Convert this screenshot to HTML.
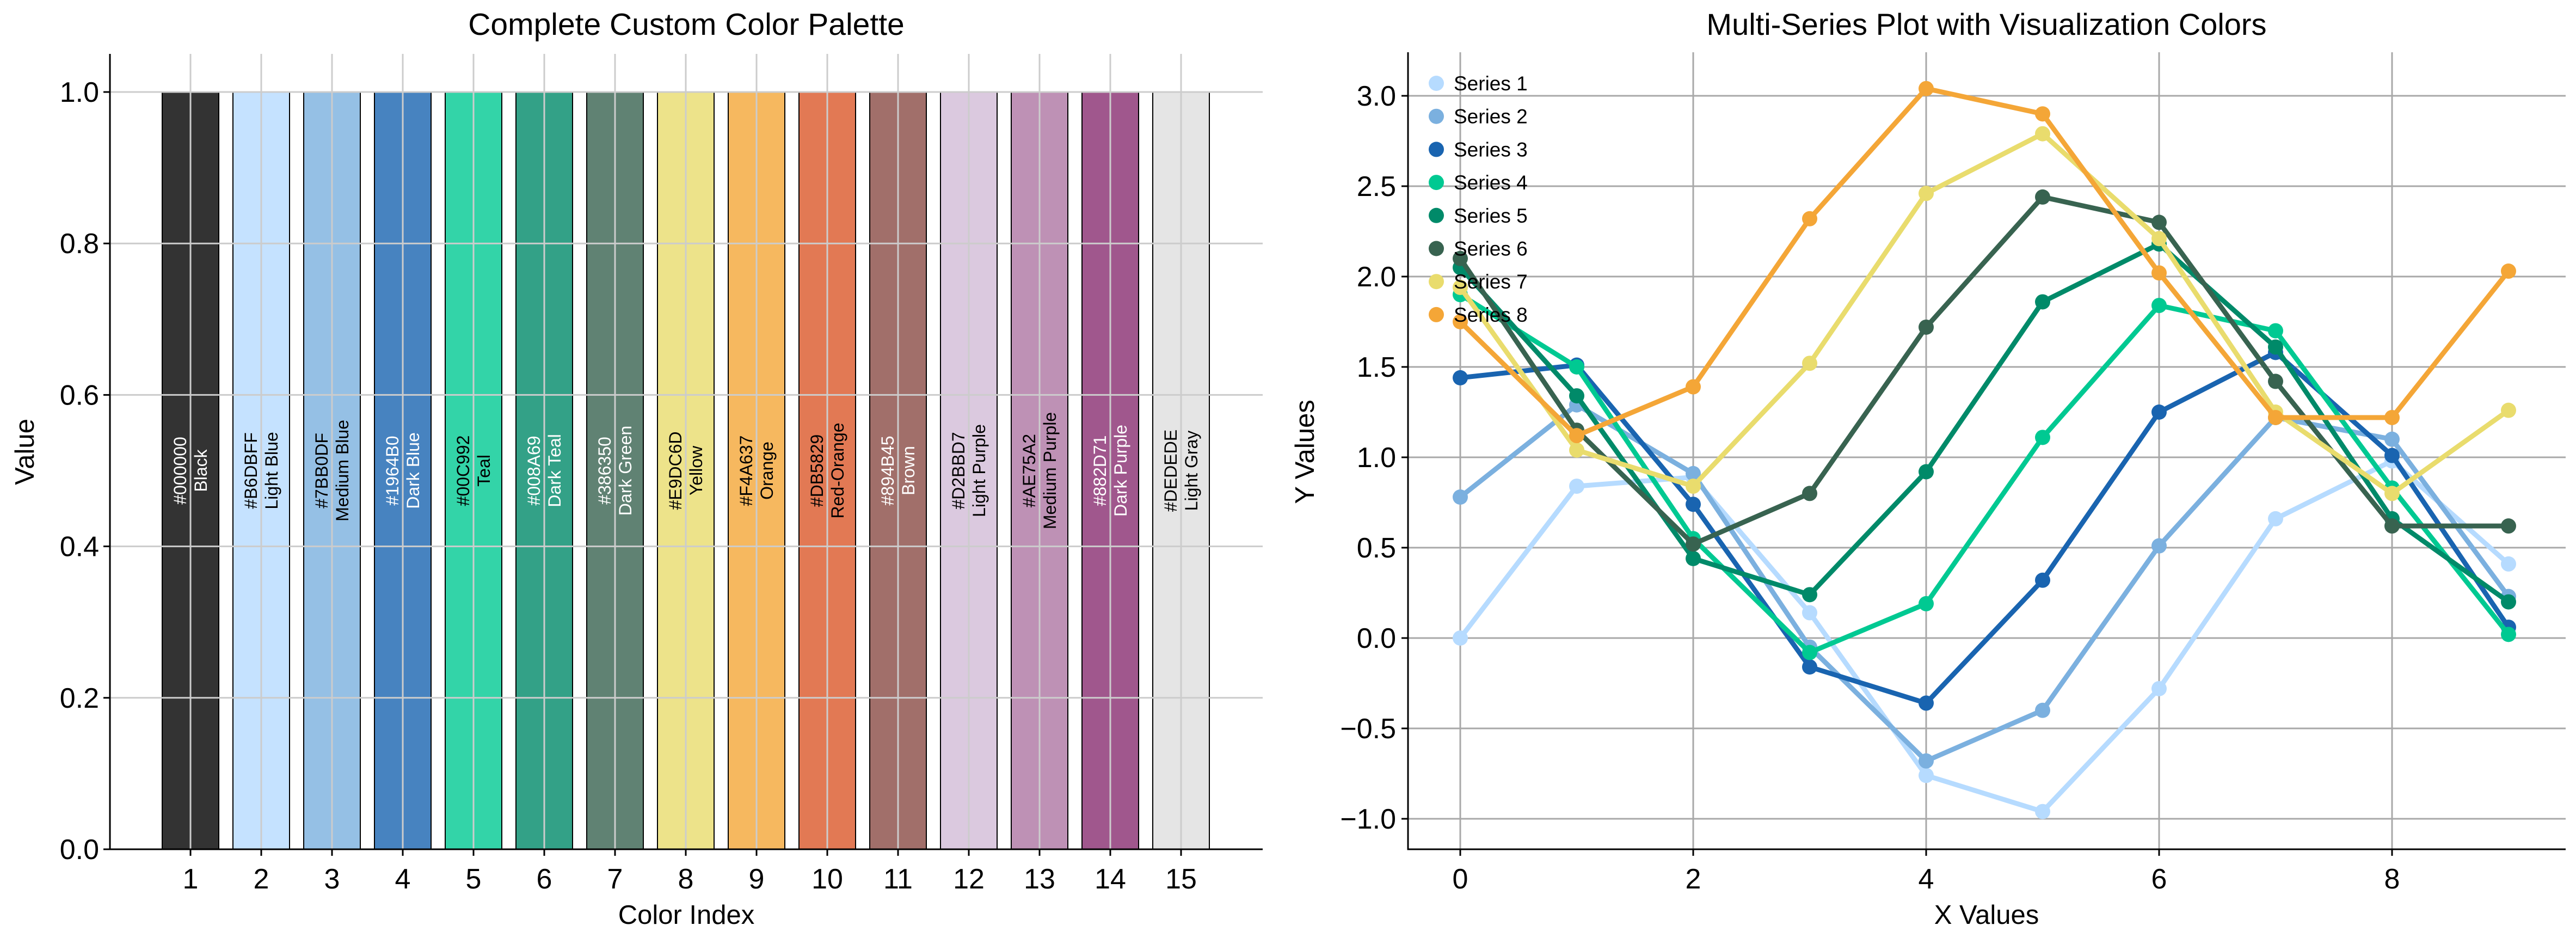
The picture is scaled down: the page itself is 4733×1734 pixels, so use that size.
<!DOCTYPE html>
<html><head><meta charset="utf-8"><style>
html,body{margin:0;padding:0;background:#fff}
svg{display:block;font-family:"Liberation Sans",Arial,sans-serif}
</style></head><body>
<svg id="fig" width="4733" height="1734" viewBox="0 0 4733 1734" xmlns="http://www.w3.org/2000/svg">
<rect width="4733" height="1734" fill="#fff"/>
<g id="left"></g>
<g id="right"></g>
</svg>
<script>
const paletteHex=["#000000","#B6DBFF","#7BB0DF","#1964B0","#00C992","#008A69","#386350","#E9DC6D","#F4A637","#DB5829","#894B45","#D2BBD7","#AE75A2","#882D71","#DEDEDE"];
const paletteNames=["Black","Light Blue","Medium Blue","Dark Blue","Teal","Dark Teal","Dark Green","Yellow","Orange","Red-Orange","Brown","Light Purple","Medium Purple","Dark Purple","Light Gray"];
const paletteValues=[1,1,1,1,1,1,1,1,1,1,1,1,1,1,1];
const labelWhite=[1,0,0,1,0,1,1,0,0,0,1,0,0,1,0];
const leftYTicks=[0,0.2,0.4,0.6,0.8,1.0];
const leftYTickLabels=["0.0","0.2","0.4","0.6","0.8","1.0"];

const xValues=[0,1,2,3,4,5,6,7,8,9];
const s1=[0.0,0.84,0.89,0.14,-0.76,-0.96,-0.28,0.66,0.98,0.41];
const s2=[0.78,1.29,0.91,-0.05,-0.68,-0.40,0.51,1.22,1.10,0.23];
const s3=[1.44,1.51,0.74,-0.16,-0.36,0.32,1.25,1.58,1.01,0.06];
const s4=[1.90,1.50,0.55,-0.08,0.19,1.11,1.84,1.70,0.83,0.02];
const s5=[2.05,1.34,0.44,0.24,0.92,1.86,2.18,1.61,0.66,0.20];
const s6=[2.10,1.15,0.52,0.80,1.72,2.44,2.30,1.42,0.62,0.62];
const s7=[1.94,1.04,0.84,1.52,2.46,2.79,2.21,1.25,0.80,1.26];
const s8=[1.75,1.12,1.39,2.32,3.04,2.90,2.02,1.22,1.22,2.03];
const seriesNames=["Series 1","Series 2","Series 3","Series 4","Series 5","Series 6","Series 7","Series 8"];
const seriesColors=["#B6DBFF","#7BB0DF","#1964B0","#00C992","#008A69","#386350","#E9DC6D","#F4A637"];
const rightXTicks=[0,2,4,6,8];
const rightYTicks=[-1.0,-0.5,0.0,0.5,1.0,1.5,2.0,2.5,3.0];
const rightYTickLabels=["\u22121.0","\u22120.5","0.0","0.5","1.0","1.5","2.0","2.5","3.0"];

const NS="http://www.w3.org/2000/svg";
function mk(parent,tag,attrs,text){const e=document.createElementNS(NS,tag);for(const k in attrs)e.setAttribute(k,attrs[k]);if(text!==undefined)e.textContent=text;parent.appendChild(e);return e;}

// LEFT
const L=document.getElementById('left');
const lx=i=>350+(i-1)*130.0;
const ly=v=>1560-1391*v;
const LX0=202,LX1=2320,LY0=99,LY1=1560;
paletteValues.forEach((v,i)=>{
  const r=mk(L,'rect',{x:lx(i+1)-52,y:ly(v),width:104,height:ly(0)-ly(v),fill:paletteHex[i],'fill-opacity':0.8,stroke:'#000','stroke-width':2});
  
  
});
for(let i=1;i<=15;i++){const g=mk(L,'line',{x1:lx(i),x2:lx(i),y1:LY0,y2:LY1,stroke:'#cccccc','stroke-width':3});}
leftYTicks.forEach(t=>{const g=mk(L,'line',{x1:LX0,x2:LX1,y1:ly(t),y2:ly(t),stroke:'#cccccc','stroke-width':3});});
paletteValues.forEach((v,i)=>{
  const cx=lx(i+1),cy=ly(v/2);
  const t=mk(L,'text',{transform:`translate(${cx},${cy}) rotate(-90)`,'text-anchor':'middle','font-size':32,fill:labelWhite[i]?'#fff':'#000'});
  
  
  mk(t,'tspan',{x:0,y:-8},paletteHex[i]);
  mk(t,'tspan',{x:0,y:30},paletteNames[i]);
});
mk(L,'line',{x1:LX0,x2:LX0,y1:LY0,y2:LY1+1.5,stroke:'#000','stroke-width':3});
mk(L,'line',{x1:LX0-1.5,x2:LX1,y1:LY1,y2:LY1,stroke:'#000','stroke-width':3});
leftYTicks.forEach((t,i)=>{
  mk(L,'line',{x1:LX0-12,x2:LX0,y1:ly(t),y2:ly(t),stroke:'#000','stroke-width':3});
  const e=mk(L,'text',{x:LX0-20,y:ly(t)+18,'text-anchor':'end','font-size':52},leftYTickLabels[i]);
  
});
for(let i=1;i<=15;i++){
  mk(L,'line',{x1:lx(i),x2:lx(i),y1:LY1,y2:LY1+12,stroke:'#000','stroke-width':3});
  const e=mk(L,'text',{x:lx(i),y:1632,'text-anchor':'middle','font-size':52},String(i));
  
}
let e=mk(L,'text',{x:1261,y:64,'text-anchor':'middle','font-size':57},'Complete Custom Color Palette');
e=mk(L,'text',{x:1261,y:1697,'text-anchor':'middle','font-size':49},'Color Index');
e=mk(L,'text',{transform:'translate(62,830) rotate(-90)','text-anchor':'middle','font-size':49},'Value');

// RIGHT
const R=document.getElementById('right');
const rx=v=>2683+214*v;
const ry=v=>1172-332*v;
const RX0=2587,RX1=4714,RY0=96,RY1=1560;
rightXTicks.forEach(t=>{const g=mk(R,'line',{x1:rx(t),x2:rx(t),y1:RY0,y2:RY1,stroke:'#a8a8a8','stroke-width':3});});
rightYTicks.forEach(t=>{const g=mk(R,'line',{x1:RX0,x2:RX1,y1:ry(t),y2:ry(t),stroke:'#a8a8a8','stroke-width':3});});
[s1,s2,s3,s4,s5,s6,s7,s8].forEach((s,k)=>{
  const g=mk(R,'g',{});
  
  
  const pl=mk(g,'polyline',{points:s.map((v,i)=>rx(xValues[i])+','+ry(v)).join(' '),fill:'none',stroke:seriesColors[k],'stroke-width':9,'stroke-linejoin':'round'});
  
  
  s.forEach((v,i)=>{const c=mk(g,'circle',{cx:rx(xValues[i]),cy:ry(v),r:14,fill:seriesColors[k]});});
});
mk(R,'line',{x1:RX0,x2:RX0,y1:RY0,y2:RY1+1.5,stroke:'#000','stroke-width':3});
mk(R,'line',{x1:RX0-1.5,x2:RX1,y1:RY1,y2:RY1,stroke:'#000','stroke-width':3});
rightYTicks.forEach((t,i)=>{
  mk(R,'line',{x1:RX0-12,x2:RX0,y1:ry(t),y2:ry(t),stroke:'#000','stroke-width':3});
  const e=mk(R,'text',{x:RX0-22,y:ry(t)+18,'text-anchor':'end','font-size':52},rightYTickLabels[i]);
  
});
rightXTicks.forEach(t=>{
  mk(R,'line',{x1:rx(t),x2:rx(t),y1:RY1,y2:RY1+12,stroke:'#000','stroke-width':3});
  const e=mk(R,'text',{x:rx(t),y:1632,'text-anchor':'middle','font-size':52},String(t));
  
});
const leg=mk(R,'g',{});
seriesNames.forEach((n,k)=>{
  const y=153+k*60.7;
  const c=mk(leg,'circle',{cx:2639,cy:y,r:14,fill:seriesColors[k]});
  const t=mk(leg,'text',{x:2671,y:y+13,'font-size':37},n);
});
e=mk(R,'text',{x:3650,y:64,'text-anchor':'middle','font-size':56},'Multi-Series Plot with Visualization Colors');
e=mk(R,'text',{x:3650,y:1697,'text-anchor':'middle','font-size':49},'X Values');
e=mk(R,'text',{transform:'translate(2414,830) rotate(-90)','text-anchor':'middle','font-size':49},'Y Values');
</script>
</body></html>
